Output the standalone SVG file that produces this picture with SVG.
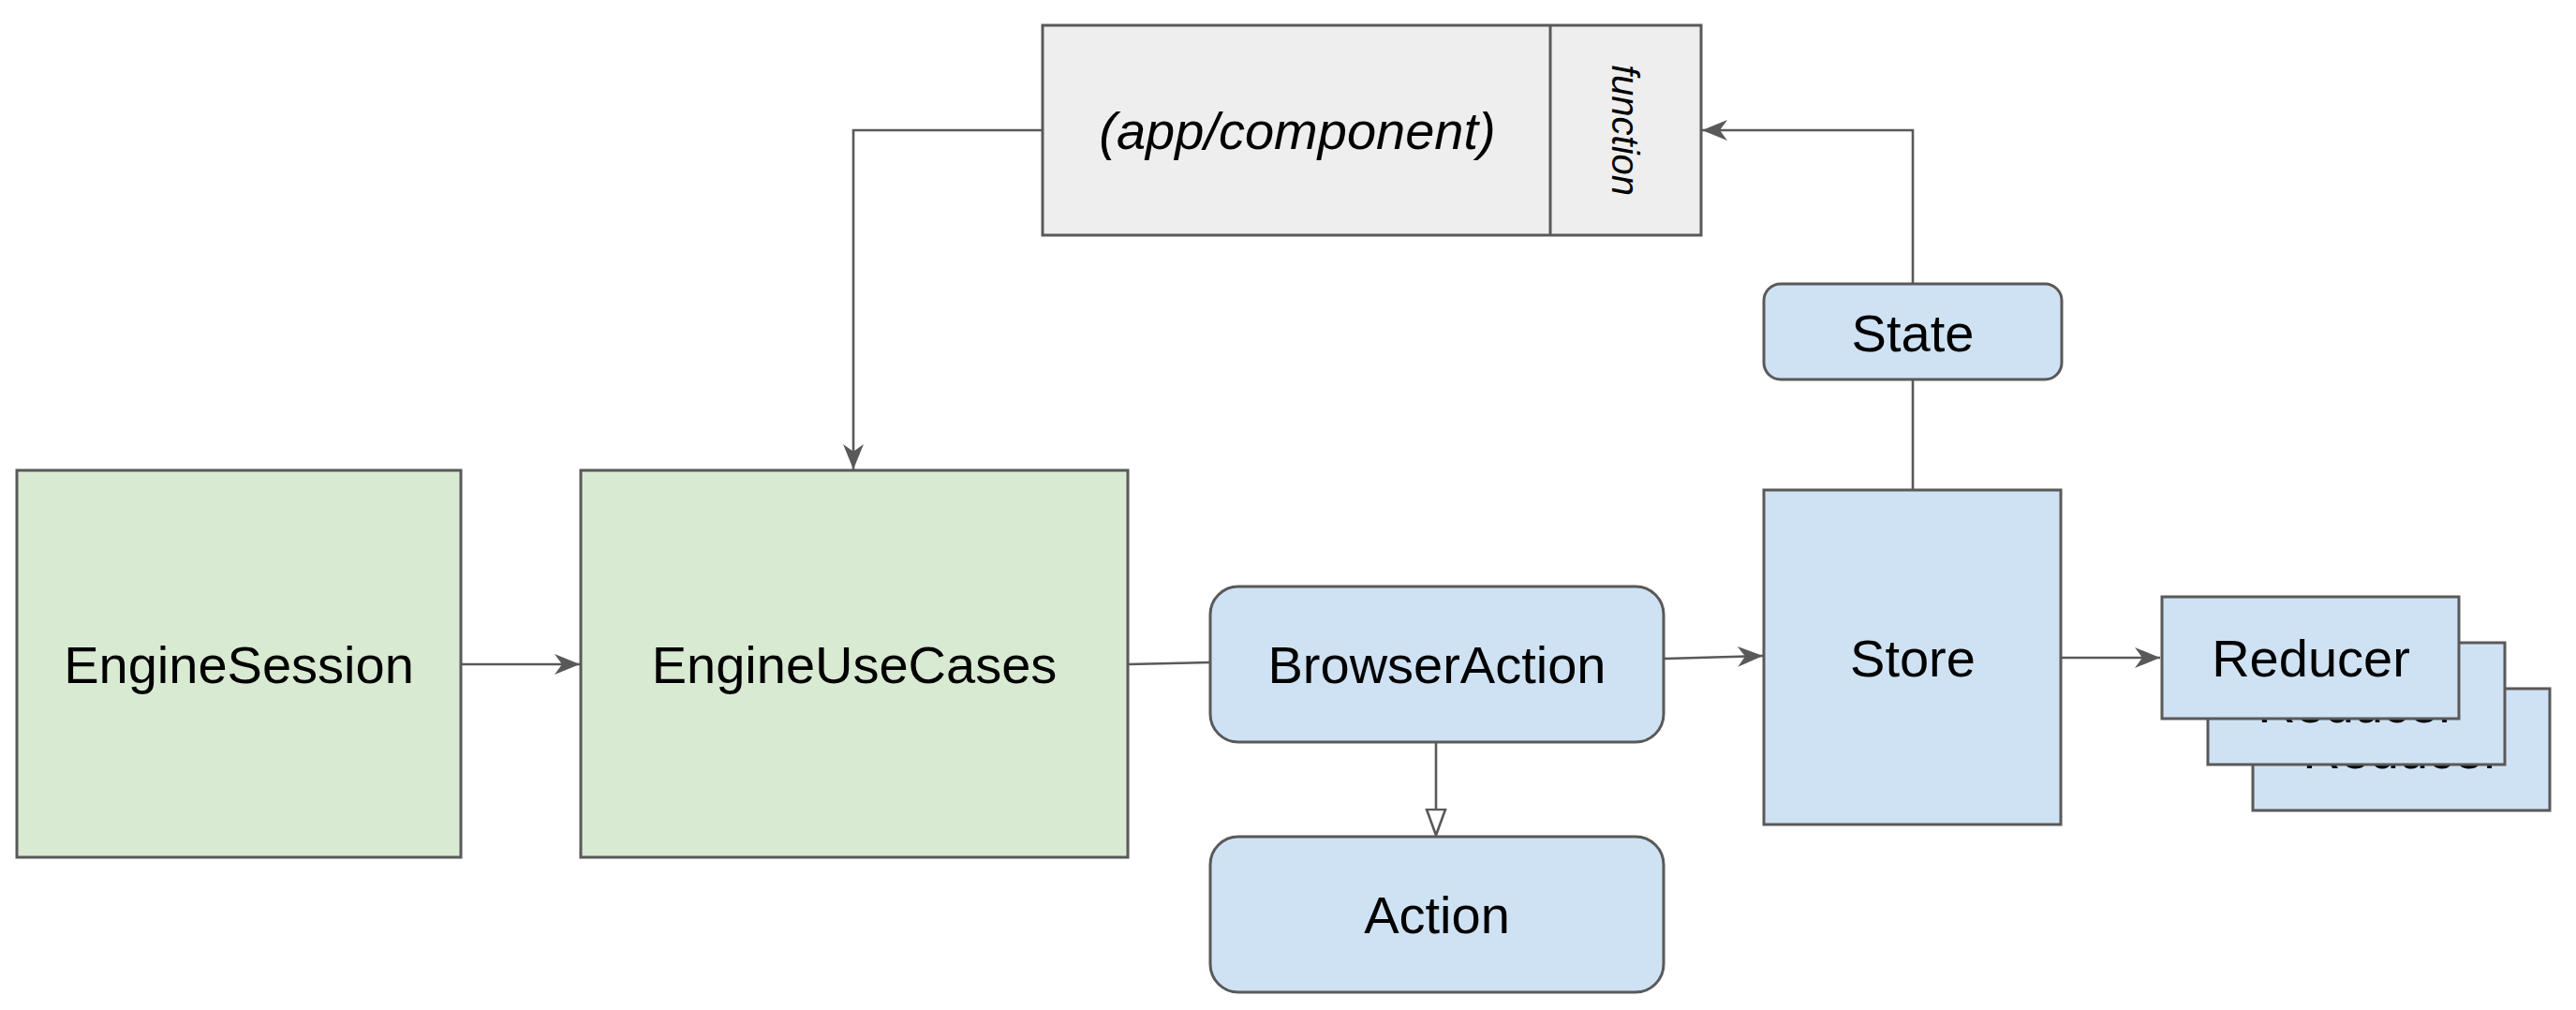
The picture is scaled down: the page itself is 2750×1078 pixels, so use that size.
<svg xmlns="http://www.w3.org/2000/svg" width="2750" height="1078" viewBox="0 0 2750 1078">
<style>
.box{stroke:#595959;stroke-width:3}
.green{fill:#d9ead3}
.blue{fill:#cfe2f3}
.gray{fill:#eeeeee}
.lbl{font-family:"Liberation Sans",Arial,sans-serif;font-size:56px;fill:#000;text-anchor:middle}
.it{font-style:italic}
.conn{fill:none;stroke:#595959;stroke-width:2.6}
</style>
<defs>
<marker id="arrow" markerUnits="userSpaceOnUse" viewBox="0 0 28 22" refX="27" refY="11" markerWidth="28" markerHeight="22" orient="auto">
<path d="M0,0 L27,11 L0,22 L8,11 Z" fill="#595959"/>
</marker>
<marker id="hollow" markerUnits="userSpaceOnUse" viewBox="0 0 32 24" refX="1.5" refY="12" markerWidth="32" markerHeight="24" orient="auto">
<path d="M1.5,2 L29,12 L1.5,22 Z" fill="#ffffff" stroke="#595959" stroke-width="2.6"/>
</marker>
</defs>
<rect width="2750" height="1078" fill="#ffffff"/>

<g id="connectors">
<path class="conn" d="M1113,139 H911 V501" marker-end="url(#arrow)"/>
<path class="conn" d="M2042,303 V139 H1817" marker-end="url(#arrow)"/>
<path class="conn" d="M2042,405 V523"/>
<path class="conn" d="M492,709 H619" marker-end="url(#arrow)"/>
<path class="conn" d="M1204,709 L1292,707"/>
<path class="conn" d="M1776,703 L1882,700" marker-end="url(#arrow)"/>
<path class="conn" d="M2200,702 H2306" marker-end="url(#arrow)"/>
<path class="conn" d="M1533,792 V864" marker-end="url(#hollow)"/>
</g>

<g id="app-component">
<rect class="box gray" x="1113" y="27" width="703" height="224"/>
<line class="box" x1="1655" y1="27" x2="1655" y2="251"/>
<text class="lbl it" x="1385" y="159">(app/component)</text>
<text class="lbl it" style="font-size:40px" transform="translate(1735,139) rotate(90)" y="14">function</text>
</g>

<g id="engine-session">
<rect class="box green" x="18" y="502" width="474" height="413"/>
<text class="lbl" x="255" y="729">EngineSession</text>
</g>

<g id="engine-use-cases">
<rect class="box green" x="620" y="502" width="584" height="413"/>
<text class="lbl" x="912" y="729">EngineUseCases</text>
</g>

<g id="browser-action">
<rect class="box blue" x="1292" y="626" width="484" height="166" rx="30" ry="30"/>
<text class="lbl" x="1534" y="729">BrowserAction</text>
</g>

<g id="action">
<rect class="box blue" x="1292" y="893" width="484" height="166" rx="30" ry="30"/>
<text class="lbl" x="1534" y="996">Action</text>
</g>

<g id="state">
<rect class="box blue" x="1883" y="303" width="318" height="102" rx="18" ry="18"/>
<text class="lbl" x="2042" y="375">State</text>
</g>

<g id="store">
<rect class="box blue" x="1883" y="523" width="317" height="357"/>
<text class="lbl" x="2042" y="722">Store</text>
</g>

<g id="reducers">
<rect class="box blue" x="2405" y="735" width="317" height="130"/>
<text class="lbl" x="2564" y="820">Reducer</text>
<rect class="box blue" x="2357" y="686" width="317" height="130"/>
<text class="lbl" x="2516" y="771">Reducer</text>
<rect class="box blue" x="2308" y="637" width="317" height="130"/>
<text class="lbl" x="2467" y="722">Reducer</text>
</g>
</svg>
